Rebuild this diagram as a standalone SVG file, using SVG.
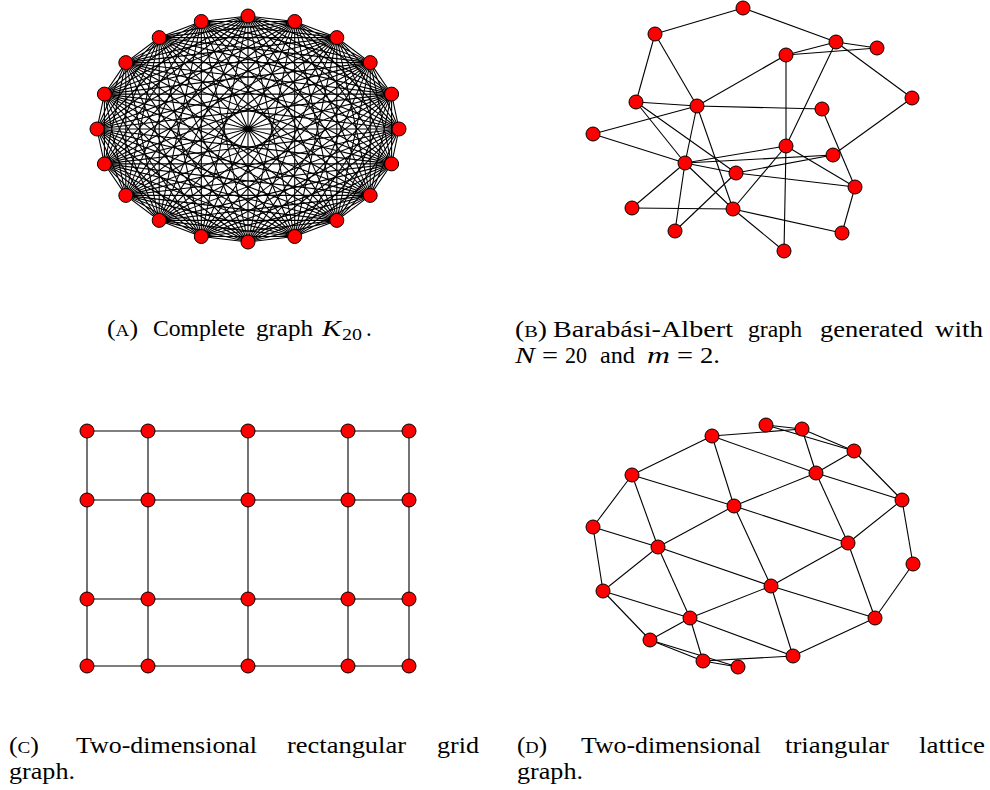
<svg xmlns="http://www.w3.org/2000/svg" width="990" height="790" viewBox="0 0 990 790">
<style>
.bg{fill:#fff}
.e{stroke:#000;stroke-width:1.1;fill:none}
.ea{stroke:#000;stroke-width:1.1;fill:none}
.n{fill:#f00;stroke:#000;stroke-width:1}
.cap{font-family:"Liberation Serif","DejaVu Serif",serif;font-size:23px;fill:#000}
.it{font-style:italic}
</style>
<defs>
<circle id="nd" r="7" class="n"/>
</defs>
<rect class="bg" x="0" y="0" width="990" height="790"/>

<!-- Graph A: complete graph K20 -->
<g id="connectors-a">
<path class="ea" d="M248 16L294.7 21.5L336.8 37.6L370.2 62.6L391.6 94.1L399 129L391.6 163.9L370.2 195.4L336.8 220.4L294.7 236.5L248 242L201.3 236.5L159.2 220.4L125.8 195.4L104.4 163.9L97 129L104.4 94.1L125.8 62.6L159.2 37.6L201.3 21.5Z"/>
<path class="ea" d="M248 16L336.8 37.6L391.6 94.1L391.6 163.9L336.8 220.4L248 242L159.2 220.4L104.4 163.9L104.4 94.1L159.2 37.6Z M294.7 21.5L370.2 62.6L399 129L370.2 195.4L294.7 236.5L201.3 236.5L125.8 195.4L97 129L125.8 62.6L201.3 21.5Z"/>
<path class="ea" d="M248 16L370.2 62.6L391.6 163.9L294.7 236.5L159.2 220.4L97 129L159.2 37.6L294.7 21.5L391.6 94.1L370.2 195.4L248 242L125.8 195.4L104.4 94.1L201.3 21.5L336.8 37.6L399 129L336.8 220.4L201.3 236.5L104.4 163.9L125.8 62.6Z"/>
<path class="ea" d="M248 16L391.6 94.1L336.8 220.4L159.2 220.4L104.4 94.1Z M294.7 21.5L399 129L294.7 236.5L125.8 195.4L125.8 62.6Z M336.8 37.6L391.6 163.9L248 242L104.4 163.9L159.2 37.6Z M370.2 62.6L370.2 195.4L201.3 236.5L97 129L201.3 21.5Z"/>
<path class="ea" d="M248 16L399 129L248 242L97 129Z M294.7 21.5L391.6 163.9L201.3 236.5L104.4 94.1Z M336.8 37.6L370.2 195.4L159.2 220.4L125.8 62.6Z M370.2 62.6L336.8 220.4L125.8 195.4L159.2 37.6Z M391.6 94.1L294.7 236.5L104.4 163.9L201.3 21.5Z"/>
<path class="ea" d="M248 16L391.6 163.9L159.2 220.4L159.2 37.6L391.6 94.1L248 242L104.4 94.1L336.8 37.6L336.8 220.4L104.4 163.9Z M294.7 21.5L370.2 195.4L125.8 195.4L201.3 21.5L399 129L201.3 236.5L125.8 62.6L370.2 62.6L294.7 236.5L97 129Z"/>
<path class="ea" d="M248 16L370.2 195.4L104.4 163.9L294.7 21.5L336.8 220.4L97 129L336.8 37.6L294.7 236.5L104.4 94.1L370.2 62.6L248 242L125.8 62.6L391.6 94.1L201.3 236.5L159.2 37.6L399 129L159.2 220.4L201.3 21.5L391.6 163.9L125.8 195.4Z"/>
<path class="ea" d="M248 16L336.8 220.4L104.4 94.1L391.6 94.1L159.2 220.4Z M294.7 21.5L294.7 236.5L125.8 62.6L399 129L125.8 195.4Z M336.8 37.6L248 242L159.2 37.6L391.6 163.9L104.4 163.9Z M370.2 62.6L201.3 236.5L201.3 21.5L370.2 195.4L97 129Z"/>
<path class="ea" d="M248 16L294.7 236.5L159.2 37.6L370.2 195.4L104.4 94.1L399 129L104.4 163.9L370.2 62.6L159.2 220.4L294.7 21.5L248 242L201.3 21.5L336.8 220.4L125.8 62.6L391.6 163.9L97 129L391.6 94.1L125.8 195.4L336.8 37.6L201.3 236.5Z"/>
<path class="ea" d="M248 16L248 242M294.7 21.5L201.3 236.5M336.8 37.6L159.2 220.4M370.2 62.6L125.8 195.4M391.6 94.1L104.4 163.9M399 129L97 129M391.6 163.9L104.4 94.1M370.2 195.4L125.8 62.6M336.8 220.4L159.2 37.6M294.7 236.5L201.3 21.5"/>
</g>
<g id="nodes-a">
<g id="a0"><use href="#nd" x="248" y="16"/></g>
<g id="a1"><use href="#nd" x="294.7" y="21.5"/></g>
<g id="a2"><use href="#nd" x="336.8" y="37.6"/></g>
<g id="a3"><use href="#nd" x="370.2" y="62.6"/></g>
<g id="a4"><use href="#nd" x="391.6" y="94.1"/></g>
<g id="a5"><use href="#nd" x="399" y="129"/></g>
<g id="a6"><use href="#nd" x="391.6" y="163.9"/></g>
<g id="a7"><use href="#nd" x="370.2" y="195.4"/></g>
<g id="a8"><use href="#nd" x="336.8" y="220.4"/></g>
<g id="a9"><use href="#nd" x="294.7" y="236.5"/></g>
<g id="a10"><use href="#nd" x="248" y="242"/></g>
<g id="a11"><use href="#nd" x="201.3" y="236.5"/></g>
<g id="a12"><use href="#nd" x="159.2" y="220.4"/></g>
<g id="a13"><use href="#nd" x="125.8" y="195.4"/></g>
<g id="a14"><use href="#nd" x="104.4" y="163.9"/></g>
<g id="a15"><use href="#nd" x="97" y="129"/></g>
<g id="a16"><use href="#nd" x="104.4" y="94.1"/></g>
<g id="a17"><use href="#nd" x="125.8" y="62.6"/></g>
<g id="a18"><use href="#nd" x="159.2" y="37.6"/></g>
<g id="a19"><use href="#nd" x="201.3" y="21.5"/></g>
</g>

<!-- Graph B: Barabasi-Albert -->
<g id="connectors-b" class="e">
<line x1="743" y1="8" x2="655" y2="34"/>
<line x1="743" y1="8" x2="836" y2="42"/>
<line x1="655" y1="34" x2="636" y2="102"/>
<line x1="655" y1="34" x2="697" y2="106"/>
<line x1="636" y1="102" x2="697" y2="106"/>
<line x1="697" y1="106" x2="786" y2="55"/>
<line x1="697" y1="106" x2="822" y2="109"/>
<line x1="593" y1="134" x2="697" y2="106"/>
<line x1="593" y1="134" x2="685" y2="163"/>
<line x1="636" y1="102" x2="685" y2="163"/>
<line x1="636" y1="102" x2="736" y2="173"/>
<line x1="697" y1="106" x2="685" y2="163"/>
<line x1="697" y1="106" x2="733" y2="209"/>
<line x1="786" y1="55" x2="836" y2="42"/>
<line x1="786" y1="55" x2="877" y2="48"/>
<line x1="836" y1="42" x2="877" y2="48"/>
<line x1="836" y1="42" x2="912" y2="98"/>
<line x1="836" y1="42" x2="786" y2="146"/>
<line x1="786" y1="55" x2="786" y2="146"/>
<line x1="786" y1="146" x2="784" y2="251"/>
<line x1="912" y1="98" x2="833" y2="155"/>
<line x1="822" y1="109" x2="855" y2="187"/>
<line x1="685" y1="163" x2="786" y2="146"/>
<line x1="685" y1="163" x2="833" y2="155"/>
<line x1="685" y1="163" x2="736" y2="173"/>
<line x1="685" y1="163" x2="733" y2="209"/>
<line x1="685" y1="163" x2="632" y2="208"/>
<line x1="685" y1="163" x2="675" y2="231"/>
<line x1="736" y1="173" x2="833" y2="155"/>
<line x1="736" y1="173" x2="855" y2="187"/>
<line x1="786" y1="146" x2="855" y2="187"/>
<line x1="786" y1="146" x2="733" y2="209"/>
<line x1="736" y1="173" x2="675" y2="231"/>
<line x1="632" y1="208" x2="733" y2="209"/>
<line x1="733" y1="209" x2="842" y2="233"/>
<line x1="733" y1="209" x2="784" y2="251"/>
<line x1="855" y1="187" x2="842" y2="233"/>
</g>
<g id="nodes-b">
<g id="b1"><use href="#nd" x="743" y="8"/></g>
<g id="b2"><use href="#nd" x="655" y="34"/></g>
<g id="b3"><use href="#nd" x="836" y="42"/></g>
<g id="b4"><use href="#nd" x="877" y="48"/></g>
<g id="b5"><use href="#nd" x="786" y="55"/></g>
<g id="b6"><use href="#nd" x="636" y="102"/></g>
<g id="b7"><use href="#nd" x="697" y="106"/></g>
<g id="b8"><use href="#nd" x="822" y="109"/></g>
<g id="b9"><use href="#nd" x="912" y="98"/></g>
<g id="b10"><use href="#nd" x="593" y="134"/></g>
<g id="b11"><use href="#nd" x="685" y="163"/></g>
<g id="b12"><use href="#nd" x="786" y="146"/></g>
<g id="b13"><use href="#nd" x="833" y="155"/></g>
<g id="b14"><use href="#nd" x="736" y="173"/></g>
<g id="b15"><use href="#nd" x="855" y="187"/></g>
<g id="b16"><use href="#nd" x="632" y="208"/></g>
<g id="b17"><use href="#nd" x="733" y="209"/></g>
<g id="b18"><use href="#nd" x="675" y="231"/></g>
<g id="b19"><use href="#nd" x="842" y="233"/></g>
<g id="b20"><use href="#nd" x="784" y="251"/></g>
</g>

<!-- Graph C: rectangular grid -->
<g id="connectors-c" class="e">
<line x1="87" y1="431" x2="409" y2="431"/>
<line x1="87" y1="500" x2="409" y2="500"/>
<line x1="87" y1="599" x2="409" y2="599"/>
<line x1="87" y1="666" x2="409" y2="666"/>
<line x1="87" y1="431" x2="87" y2="666"/>
<line x1="148" y1="431" x2="148" y2="666"/>
<line x1="248" y1="431" x2="248" y2="666"/>
<line x1="348" y1="431" x2="348" y2="666"/>
<line x1="409" y1="431" x2="409" y2="666"/>
</g>
<g id="nodes-c">
<g id="c11"><use href="#nd" x="87" y="431"/></g>
<g id="c12"><use href="#nd" x="148" y="431"/></g>
<g id="c13"><use href="#nd" x="248" y="431"/></g>
<g id="c14"><use href="#nd" x="348" y="431"/></g>
<g id="c15"><use href="#nd" x="409" y="431"/></g>
<g id="c21"><use href="#nd" x="87" y="500"/></g>
<g id="c22"><use href="#nd" x="148" y="500"/></g>
<g id="c23"><use href="#nd" x="248" y="500"/></g>
<g id="c24"><use href="#nd" x="348" y="500"/></g>
<g id="c25"><use href="#nd" x="409" y="500"/></g>
<g id="c31"><use href="#nd" x="87" y="599"/></g>
<g id="c32"><use href="#nd" x="148" y="599"/></g>
<g id="c33"><use href="#nd" x="248" y="599"/></g>
<g id="c34"><use href="#nd" x="348" y="599"/></g>
<g id="c35"><use href="#nd" x="409" y="599"/></g>
<g id="c41"><use href="#nd" x="87" y="666"/></g>
<g id="c42"><use href="#nd" x="148" y="666"/></g>
<g id="c43"><use href="#nd" x="248" y="666"/></g>
<g id="c44"><use href="#nd" x="348" y="666"/></g>
<g id="c45"><use href="#nd" x="409" y="666"/></g>
</g>

<!-- Graph D: triangular lattice -->
<g id="connectors-d" class="e">
<line x1="766" y1="425" x2="802" y2="429"/>
<line x1="766" y1="425" x2="854" y2="451"/>
<line x1="802" y1="429" x2="854" y2="451"/>
<line x1="712" y1="436" x2="802" y2="429"/>
<line x1="712" y1="436" x2="632" y2="475"/>
<line x1="712" y1="436" x2="734" y2="506"/>
<line x1="712" y1="436" x2="816" y2="473"/>
<line x1="802" y1="429" x2="816" y2="473"/>
<line x1="816" y1="473" x2="854" y2="451"/>
<line x1="854" y1="451" x2="902" y2="500"/>
<line x1="816" y1="473" x2="902" y2="500"/>
<line x1="816" y1="473" x2="734" y2="506"/>
<line x1="816" y1="473" x2="848" y2="543"/>
<line x1="902" y1="500" x2="848" y2="543"/>
<line x1="902" y1="500" x2="913" y2="564"/>
<line x1="734" y1="506" x2="848" y2="543"/>
<line x1="734" y1="506" x2="771" y2="586"/>
<line x1="734" y1="506" x2="632" y2="475"/>
<line x1="734" y1="506" x2="658" y2="547"/>
<line x1="632" y1="475" x2="593" y2="527"/>
<line x1="632" y1="475" x2="658" y2="547"/>
<line x1="593" y1="527" x2="658" y2="547"/>
<line x1="593" y1="527" x2="603" y2="591"/>
<line x1="603" y1="591" x2="658" y2="547"/>
<line x1="603" y1="591" x2="690" y2="618"/>
<line x1="603" y1="591" x2="650" y2="640"/>
<line x1="658" y1="547" x2="690" y2="618"/>
<line x1="658" y1="547" x2="771" y2="586"/>
<line x1="690" y1="618" x2="771" y2="586"/>
<line x1="690" y1="618" x2="793" y2="656"/>
<line x1="690" y1="618" x2="703" y2="661"/>
<line x1="650" y1="640" x2="690" y2="618"/>
<line x1="650" y1="640" x2="703" y2="661"/>
<line x1="650" y1="640" x2="738" y2="667"/>
<line x1="703" y1="661" x2="738" y2="667"/>
<line x1="703" y1="661" x2="793" y2="656"/>
<line x1="771" y1="586" x2="848" y2="543"/>
<line x1="771" y1="586" x2="875" y2="618"/>
<line x1="771" y1="586" x2="793" y2="656"/>
<line x1="848" y1="543" x2="875" y2="618"/>
<line x1="913" y1="564" x2="875" y2="618"/>
<line x1="875" y1="618" x2="793" y2="656"/>
</g>
<g id="nodes-d">
<g id="da"><use href="#nd" x="766" y="425"/></g>
<g id="db"><use href="#nd" x="712" y="436"/></g>
<g id="dc"><use href="#nd" x="632" y="475"/></g>
<g id="dd"><use href="#nd" x="734" y="506"/></g>
<g id="de"><use href="#nd" x="593" y="527"/></g>
<g id="df"><use href="#nd" x="658" y="547"/></g>
<g id="dg"><use href="#nd" x="802" y="429"/></g>
<g id="dh"><use href="#nd" x="854" y="451"/></g>
<g id="di"><use href="#nd" x="816" y="473"/></g>
<g id="dj"><use href="#nd" x="902" y="500"/></g>
<g id="dk"><use href="#nd" x="848" y="543"/></g>
<g id="dl"><use href="#nd" x="603" y="591"/></g>
<g id="dm"><use href="#nd" x="771" y="586"/></g>
<g id="dn"><use href="#nd" x="690" y="618"/></g>
<g id="do"><use href="#nd" x="650" y="640"/></g>
<g id="dp"><use href="#nd" x="703" y="661"/></g>
<g id="dq"><use href="#nd" x="738" y="667"/></g>
<g id="dr"><use href="#nd" x="913" y="564"/></g>
<g id="ds"><use href="#nd" x="875" y="618"/></g>
<g id="dt"><use href="#nd" x="793" y="656"/></g>
</g>

<!-- Captions -->
<g id="captions" class="cap">
<text x="107" y="336" textLength="31" lengthAdjust="spacingAndGlyphs">(<tspan font-size="17">A</tspan>)</text>
<text x="153" y="336" textLength="92" lengthAdjust="spacingAndGlyphs">Complete</text>
<text x="256" y="336" textLength="57" lengthAdjust="spacingAndGlyphs">graph</text>
<text x="322" y="336" class="it" textLength="19" lengthAdjust="spacingAndGlyphs">K</text>
<text x="342" y="340" font-size="16" textLength="20" lengthAdjust="spacingAndGlyphs">20</text>
<text x="366" y="336">.</text>

<text x="515" y="337" textLength="32" lengthAdjust="spacingAndGlyphs">(<tspan font-size="17">B</tspan>)</text>
<text x="553" y="337" textLength="180" lengthAdjust="spacingAndGlyphs">Barabási-Albert</text>
<text x="748" y="337" textLength="54" lengthAdjust="spacingAndGlyphs">graph</text>
<text x="820" y="337" textLength="103" lengthAdjust="spacingAndGlyphs">generated</text>
<text x="935" y="337" textLength="48" lengthAdjust="spacingAndGlyphs">with</text>
<text x="515" y="363" class="it" textLength="20" lengthAdjust="spacingAndGlyphs">N</text>
<text x="542" y="363" textLength="16" lengthAdjust="spacingAndGlyphs">=</text>
<text x="565" y="363" textLength="22" lengthAdjust="spacingAndGlyphs">20</text>
<text x="600" y="363" textLength="35" lengthAdjust="spacingAndGlyphs">and</text>
<text x="647" y="363" class="it" textLength="23" lengthAdjust="spacingAndGlyphs">m</text>
<text x="677" y="363" textLength="16" lengthAdjust="spacingAndGlyphs">=</text>
<text x="700" y="363" textLength="20" lengthAdjust="spacingAndGlyphs">2.</text>

<text x="9" y="753" textLength="30" lengthAdjust="spacingAndGlyphs">(<tspan font-size="17">C</tspan>)</text>
<text x="76" y="753" textLength="181" lengthAdjust="spacingAndGlyphs">Two-dimensional</text>
<text x="287" y="753" textLength="119" lengthAdjust="spacingAndGlyphs">rectangular</text>
<text x="437" y="753" textLength="42" lengthAdjust="spacingAndGlyphs">grid</text>
<text x="9" y="779" textLength="66" lengthAdjust="spacingAndGlyphs">graph.</text>

<text x="517" y="753" textLength="30" lengthAdjust="spacingAndGlyphs">(<tspan font-size="17">D</tspan>)</text>
<text x="581" y="753" textLength="180" lengthAdjust="spacingAndGlyphs">Two-dimensional</text>
<text x="785" y="753" textLength="104" lengthAdjust="spacingAndGlyphs">triangular</text>
<text x="919" y="753" textLength="66" lengthAdjust="spacingAndGlyphs">lattice</text>
<text x="517" y="779" textLength="66" lengthAdjust="spacingAndGlyphs">graph.</text>
</g>
</svg>
